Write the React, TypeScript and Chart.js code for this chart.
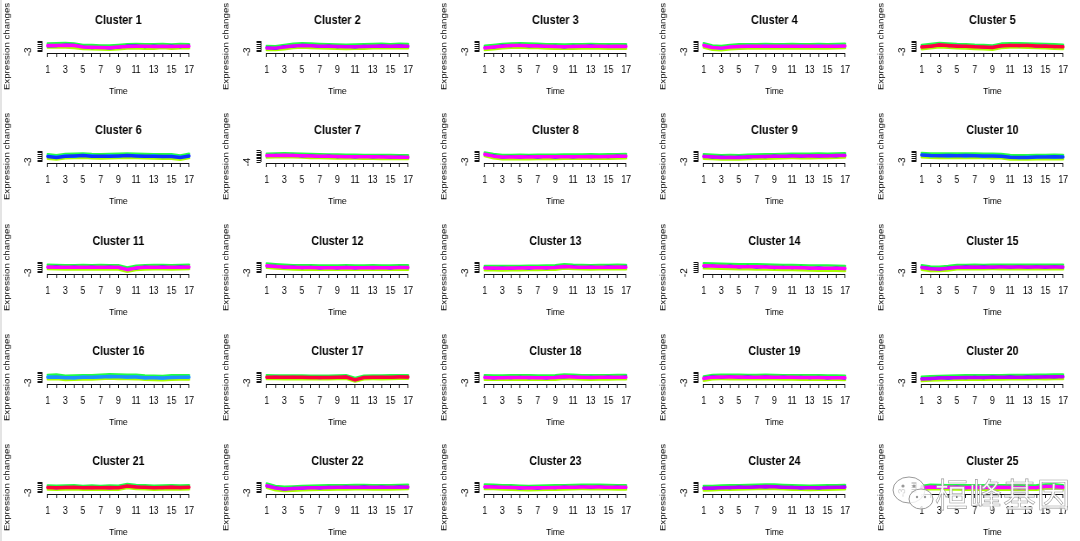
import React, { useEffect, useRef } from 'react';
import { Chart, registerables } from 'chart.js';

Chart.register(...registerables);

const FONT = "'Liberation Sans', Arial, Helvetica, sans-serif";

const timePoints = [1, 2, 3, 4, 5, 6, 7, 8, 9, 10, 11, 12, 13, 14, 15, 16, 17];
const xTickLabels = ['1', '', '3', '', '5', '', '7', '', '9', '', '11', '', '13', '', '15', '', '17'];
const xAxisTitle = 'Time';
const yAxisTitle = 'Expression changes';

const clusterNames = [
  'Cluster 1', 'Cluster 2', 'Cluster 3', 'Cluster 4', 'Cluster 5',
  'Cluster 6', 'Cluster 7', 'Cluster 8', 'Cluster 9', 'Cluster 10',
  'Cluster 11', 'Cluster 12', 'Cluster 13', 'Cluster 14', 'Cluster 15',
  'Cluster 16', 'Cluster 17', 'Cluster 18', 'Cluster 19', 'Cluster 20',
  'Cluster 21', 'Cluster 22', 'Cluster 23', 'Cluster 24', 'Cluster 25',
];

// lowest y tick (the only y label R could fit)
const yLow = [
  -3, -3, -3, -3, -3,
  -3, -4, -3, -3, -3,
  -3, -3, -3, -2, -3,
  -3, -3, -3, -3, -3,
  -3, -3, -3, -3, -3,
];
const yTop = 3;

// high-membership (core) profile of each cluster
const coreSeries = [
  [0.5, 0.6, 0.7, 0.5, -0.3, -0.4, -0.6, -0.7, -0.3, 0.0, 0.1, 0.1, 0.0, 0.2, 0.0, 0.1, 0.1],
  [-0.8, -0.9, -0.3, 0.3, 0.6, 0.4, 0.2, 0.1, 0.0, -0.2, -0.1, 0.0, 0.2, 0.3, 0.2, 0.3, 0.2],
  [-0.8, -0.3, 0.2, 0.5, 0.6, 0.4, 0.3, 0.1, 0.0, -0.1, 0.0, 0.1, 0.2, 0.1, 0.0, 0.1, 0.0],
  [0.6, -0.6, -0.9, -0.3, 0.0, 0.1, 0.1, 0.2, 0.1, 0.1, 0.2, 0.1, 0.1, 0.2, 0.1, 0.2, 0.3],
  [-0.3, 0.2, 0.8, 0.5, 0.2, 0.1, -0.2, -0.3, -0.6, 0.4, 0.6, 0.6, 0.5, 0.3, 0.2, 0.0, -0.2],
  [0.0, -0.5, 0.2, 0.3, 0.5, 0.2, 0.1, 0.2, 0.3, 0.5, 0.3, 0.2, 0.1, 0.0, 0.0, -0.6, 0.3],
  [0.1, 0.2, 0.3, 0.2, 0.0, -0.2, -0.3, -0.4, -0.5, -0.6, -0.6, -0.7, -0.7, -0.8, -0.8, -0.9, -0.9],
  [1.2, 0.2, -0.3, -0.3, -0.2, -0.3, -0.2, -0.2, -0.2, -0.1, -0.1, -0.1, 0.0, -0.1, 0.0, 0.1, 0.2],
  [0.0, -0.2, -0.5, -0.4, -0.5, -0.2, -0.1, 0.0, 0.1, 0.2, 0.3, 0.3, 0.3, 0.4, 0.3, 0.5, 0.6],
  [0.8, 0.5, 0.4, 0.5, 0.4, 0.5, 0.4, 0.3, 0.3, 0.2, -0.4, -0.5, -0.5, -0.3, -0.3, -0.2, -0.3],
  [0.3, 0.2, 0.1, 0.1, 0.2, 0.1, 0.2, 0.1, 0.1, -1.2, -0.2, 0.1, 0.2, 0.2, 0.1, 0.2, 0.3],
  [1.0, 0.6, 0.3, 0.1, 0.0, 0.0, -0.1, -0.1, -0.1, 0.0, -0.1, -0.1, 0.0, -0.1, -0.1, 0.0, 0.0],
  [-0.3, -0.3, -0.4, -0.3, -0.3, -0.2, -0.2, -0.1, 0.0, 0.6, 0.3, 0.2, 0.1, 0.2, 0.2, 0.3, 0.2],
  [1.3, 1.2, 1.1, 1.0, 0.9, 0.9, 0.8, 0.7, 0.6, 0.5, 0.5, 0.4, 0.3, 0.2, 0.2, 0.1, 0.0],
  [0.0, -0.7, -0.8, -0.4, 0.2, 0.2, 0.3, 0.2, 0.3, 0.3, 0.3, 0.3, 0.3, 0.3, 0.3, 0.3, 0.3],
  [0.2, 0.3, -0.2, -0.1, 0.1, 0.1, 0.3, 0.6, 0.4, 0.3, 0.3, -0.1, -0.2, -0.3, 0.0, 0.1, 0.1],
  [0.2, 0.1, 0.1, 0.1, 0.1, 0.0, 0.0, 0.0, 0.1, 0.3, -1.3, 0.0, 0.1, 0.1, 0.2, 0.3, 0.3],
  [0.0, -0.1, -0.1, 0.0, 0.0, 0.0, -0.1, -0.1, 0.0, 0.5, 0.3, 0.1, 0.0, 0.1, 0.1, 0.2, 0.2],
  [-0.6, 0.2, 0.3, 0.3, 0.3, 0.2, 0.2, 0.3, 0.2, 0.1, 0.1, 0.0, 0.0, 0.0, -0.1, -0.1, -0.2],
  [-0.8, -0.5, -0.3, -0.2, -0.1, 0.0, 0.0, 0.0, 0.1, 0.1, 0.2, 0.2, 0.2, 0.3, 0.3, 0.4, 0.4],
  [0.0, -0.1, 0.0, 0.1, -0.2, 0.0, -0.2, 0.0, -0.1, 0.8, 0.3, 0.1, -0.1, 0.0, 0.1, 0.0, 0.1],
  [1.0, -0.3, -0.8, -0.6, -0.3, -0.2, -0.1, 0.0, 0.1, 0.1, 0.2, 0.2, 0.1, 0.1, 0.1, 0.2, 0.3],
  [0.4, 0.3, 0.1, 0.0, -0.2, -0.3, -0.2, -0.1, 0.0, 0.1, 0.2, 0.3, 0.3, 0.3, 0.2, 0.1, 0.1],
  [-0.4, -0.3, -0.1, 0.0, 0.1, 0.2, 0.3, 0.5, 0.4, 0.2, 0.0, -0.1, -0.2, -0.1, 0.0, 0.1, 0.2],
  [-0.3, 0.3, 0.2, 0.1, 0.1, 0.0, 0.0, 0.0, 0.0, 0.1, 0.0, 0.0, -0.1, 0.0, 0.5, 0.6, 0.1],
];

// medium-membership genes
const midSeries = [
  [0.2, 0.3, 1.0, 0.9, -0.1, -0.8, -0.4, -1.0, -0.5, 0.4, 0.5, -0.3, 0.4, -0.1, 0.4, -0.3, 0.4],
  [-0.5, -1.2, 0.1, 0.0, 0.9, 0.7, -0.1, 0.4, -0.3, 0.1, -0.4, 0.3, -0.1, 0.6, 0.0, 0.5, -0.1],
  [-0.5, -0.6, 0.5, 0.3, 0.9, 0.1, 0.6, -0.2, 0.3, -0.4, 0.3, -0.2, 0.5, -0.2, 0.3, -0.2, 0.3],
  [0.9, -0.3, -1.2, 0.0, -0.3, 0.4, -0.2, 0.5, -0.2, 0.4, -0.1, 0.4, -0.2, 0.5, -0.2, 0.5, 0.0],
  [0.0, -0.1, 1.1, 0.2, 0.5, -0.2, 0.1, -0.6, -0.3, 0.1, 0.9, 0.3, 0.8, 0.0, 0.5, -0.3, 0.1],
  [0.4, -0.2, 0.6, -0.1, 0.8, 0.5, -0.2, 0.6, 0.0, 0.8, 0.6, -0.1, 0.5, -0.3, 0.4, -0.3, 0.0],
  [-0.2, 0.5, 0.0, 0.5, -0.3, 0.1, -0.6, -0.1, -0.8, -0.3, -0.9, -0.4, -1.0, -0.5, -1.1, -0.6, -1.2],
  [0.9, 0.5, -0.6, 0.0, -0.5, 0.1, -0.5, 0.1, -0.5, 0.2, -0.4, 0.2, -0.3, 0.2, -0.3, 0.4, -0.1],
  [0.3, -0.5, -0.2, -0.7, -0.2, -0.5, 0.2, -0.3, 0.4, -0.1, 0.6, 0.0, 0.6, 0.1, 0.6, 0.2, 0.8],
  [1.1, 0.2, 0.7, 0.2, 0.7, 0.2, 0.7, 0.0, 0.6, -0.1, -0.1, -0.8, -0.2, -0.6, 0.0, -0.5, 0.0],
  [0.0, 0.5, -0.2, 0.4, -0.1, 0.4, -0.1, 0.4, -0.2, -0.9, -0.5, 0.4, -0.1, 0.5, -0.2, 0.5, 0.0],
  [0.7, 0.9, 0.0, 0.4, -0.3, 0.3, -0.4, 0.2, -0.4, 0.3, -0.4, 0.2, -0.3, 0.2, -0.4, 0.3, -0.3],
  [0.0, -0.6, -0.1, -0.6, 0.0, -0.5, 0.1, -0.4, 0.3, 0.3, 0.6, -0.1, 0.4, -0.1, 0.5, 0.0, 0.5],
  [1.0, 1.5, 0.8, 1.3, 0.6, 1.2, 0.5, 1.0, 0.3, 0.8, 0.2, 0.7, 0.0, 0.5, -0.1, 0.4, -0.2],
  [0.3, -0.4, -1.1, -0.1, -0.1, 0.5, 0.0, 0.5, 0.0, 0.6, 0.0, 0.6, 0.0, 0.6, 0.0, 0.6, 0.0],
  [0.5, 0.0, 0.1, -0.4, 0.4, -0.2, 0.6, 0.3, 0.7, 0.0, 0.6, -0.4, 0.1, -0.6, 0.3, -0.2, 0.4],
  [-0.1, 0.4, -0.2, 0.3, -0.2, 0.2, -0.3, 0.2, -0.2, 0.5, -1.6, 0.2, -0.2, 0.3, -0.1, 0.6, 0.0],
  [0.3, -0.4, 0.2, -0.3, 0.3, -0.3, 0.2, -0.4, 0.3, 0.2, 0.6, -0.2, 0.3, -0.2, 0.4, -0.1, 0.5],
  [-0.3, 0.5, 0.0, 0.6, 0.0, 0.5, -0.1, 0.6, -0.1, 0.4, -0.2, 0.3, -0.3, 0.3, -0.4, 0.2, -0.5],
  [-0.5, -0.8, 0.0, -0.5, 0.2, -0.3, 0.3, -0.3, 0.4, -0.2, 0.5, -0.1, 0.5, 0.0, 0.6, 0.1, 0.7],
  [0.3, -0.4, 0.3, -0.2, 0.1, -0.3, 0.2, -0.4, 0.2, 0.5, 0.6, -0.2, 0.2, -0.3, 0.4, -0.3, 0.3],
  [0.7, 0.0, -1.1, -0.3, -0.6, 0.1, -0.4, 0.3, -0.2, 0.4, -0.1, 0.5, -0.2, 0.4, -0.2, 0.5, 0.0],
  [0.1, 0.6, -0.2, 0.3, -0.5, 0.0, -0.5, 0.2, -0.3, 0.4, -0.1, 0.6, 0.0, 0.6, -0.1, 0.4, -0.2],
  [-0.1, -0.6, 0.2, -0.3, 0.4, -0.1, 0.6, 0.2, 0.7, -0.1, 0.3, -0.4, 0.1, -0.4, 0.3, -0.2, 0.5],
  [0.0, 0.0, 0.5, -0.2, 0.4, -0.3, 0.3, -0.3, 0.3, -0.2, 0.3, -0.3, 0.2, -0.3, 0.8, 0.3, 0.4],
];

// low-membership genes at the upper edge of each band
const hiSeries = [
  [1.6, 1.8, 1.9, 1.7, 0.9, 0.8, 0.6, 0.5, 0.9, 1.3, 1.4, 1.2, 1.3, 1.4, 1.1, 1.4, 1.3],
  [0.3, 0.2, 0.9, 1.5, 1.8, 1.6, 1.4, 1.2, 1.1, 1.0, 1.1, 1.2, 1.4, 1.5, 1.3, 1.5, 1.4],
  [0.4, 0.9, 1.4, 1.7, 1.8, 1.6, 1.5, 1.3, 1.2, 1.1, 1.2, 1.3, 1.4, 1.3, 1.2, 1.3, 1.2],
  [1.8, 0.6, 0.3, 0.9, 1.2, 1.3, 1.3, 1.4, 1.3, 1.3, 1.4, 1.3, 1.3, 1.4, 1.3, 1.4, 1.5],
  [0.9, 1.4, 2.0, 1.7, 1.4, 1.3, 1.0, 0.9, 0.6, 1.6, 1.8, 1.8, 1.7, 1.5, 1.4, 1.2, 1.0],
  [1.2, 0.7, 1.4, 1.5, 1.7, 1.4, 1.3, 1.4, 1.5, 1.7, 1.5, 1.4, 1.3, 1.2, 1.2, 0.6, 1.5],
  [1.3, 1.4, 1.5, 1.4, 1.2, 1.0, 0.9, 0.8, 0.7, 0.6, 0.6, 0.5, 0.5, 0.4, 0.4, 0.3, 0.3],
  [2.2, 1.4, 0.9, 0.9, 1.0, 0.9, 1.0, 1.0, 1.0, 1.1, 1.1, 1.1, 1.2, 1.1, 1.2, 1.3, 1.4],
  [1.2, 1.0, 0.7, 0.8, 0.7, 1.0, 1.1, 1.2, 1.3, 1.4, 1.5, 1.5, 1.5, 1.6, 1.5, 1.7, 1.8],
  [2.0, 1.7, 1.6, 1.7, 1.6, 1.7, 1.6, 1.5, 1.5, 1.4, 0.8, 0.7, 0.7, 0.9, 0.9, 1.0, 0.9],
  [1.5, 1.4, 1.3, 1.3, 1.4, 1.3, 1.4, 1.3, 1.3, 0.0, 1.0, 1.3, 1.4, 1.4, 1.3, 1.4, 1.5],
  [2.2, 1.8, 1.5, 1.3, 1.2, 1.2, 1.1, 1.1, 1.1, 1.2, 1.1, 1.1, 1.2, 1.1, 1.1, 1.2, 1.2],
  [0.9, 0.9, 0.8, 0.9, 0.9, 1.0, 1.0, 1.1, 1.2, 1.8, 1.5, 1.4, 1.3, 1.4, 1.4, 1.5, 1.4],
  [2.5, 2.4, 2.3, 2.2, 2.1, 2.1, 2.0, 1.9, 1.8, 1.7, 1.7, 1.6, 1.5, 1.4, 1.4, 1.3, 1.2],
  [1.2, 0.5, 0.4, 0.8, 1.4, 1.4, 1.5, 1.4, 1.5, 1.5, 1.5, 1.5, 1.5, 1.5, 1.5, 1.5, 1.5],
  [1.4, 1.6, 1.0, 1.1, 1.3, 1.3, 1.5, 1.8, 1.6, 1.5, 1.5, 1.1, 1.0, 0.9, 1.2, 1.3, 1.3],
  [1.2, 1.1, 1.1, 1.1, 1.1, 1.0, 1.0, 1.0, 1.1, 1.3, -0.3, 1.0, 1.1, 1.1, 1.2, 1.3, 1.3],
  [1.2, 1.1, 1.1, 1.2, 1.2, 1.2, 1.1, 1.1, 1.2, 1.7, 1.5, 1.3, 1.2, 1.3, 1.3, 1.4, 1.4],
  [0.6, 1.4, 1.5, 1.5, 1.5, 1.4, 1.4, 1.5, 1.4, 1.3, 1.3, 1.2, 1.2, 1.2, 1.1, 1.1, 1.0],
  [0.4, 0.7, 0.9, 1.0, 1.1, 1.2, 1.2, 1.2, 1.3, 1.3, 1.4, 1.4, 1.4, 1.5, 1.5, 1.6, 1.6],
  [1.1, 1.0, 1.1, 1.2, 0.9, 1.1, 0.9, 1.1, 1.0, 1.9, 1.4, 1.2, 1.0, 1.1, 1.2, 1.1, 1.2],
  [2.2, 0.9, 0.4, 0.6, 0.9, 1.0, 1.1, 1.2, 1.3, 1.3, 1.4, 1.4, 1.3, 1.3, 1.3, 1.4, 1.5],
  [1.6, 1.5, 1.3, 1.2, 1.0, 0.9, 1.0, 1.1, 1.2, 1.3, 1.4, 1.5, 1.5, 1.5, 1.4, 1.3, 1.3],
  [0.8, 0.9, 1.1, 1.2, 1.3, 1.4, 1.5, 1.7, 1.6, 1.4, 1.2, 1.1, 1.0, 1.1, 1.2, 1.3, 1.4],
  [0.9, 1.5, 1.4, 1.3, 1.3, 1.2, 1.2, 1.2, 1.2, 1.3, 1.2, 1.2, 1.1, 1.2, 1.7, 1.8, 1.3],
];

// low-membership genes at the lower edge of each band
const loSeries = [
  [-0.6, -0.5, -0.5, -0.8, -1.4, -1.5, -1.7, -1.8, -1.5, -1.1, -1.0, -1.2, -1.2, -0.9, -1.3, -1.0, -1.0],
  [-1.9, -2.0, -1.5, -0.9, -0.6, -0.8, -1.0, -1.1, -1.2, -1.4, -1.3, -1.2, -1.0, -0.9, -1.0, -0.9, -1.0],
  [-2.0, -1.5, -1.0, -0.7, -0.6, -0.8, -0.9, -1.1, -1.2, -1.3, -1.2, -1.1, -1.0, -1.1, -1.2, -1.1, -1.2],
  [-0.6, -1.8, -2.1, -1.5, -1.2, -1.1, -1.1, -1.0, -1.1, -1.1, -1.0, -1.1, -1.1, -1.0, -1.1, -1.0, -0.9],
  [-1.5, -1.0, -0.4, -0.7, -1.0, -1.1, -1.4, -1.5, -1.8, -0.8, -0.6, -0.6, -0.7, -0.9, -1.0, -1.2, -1.4],
  [-1.2, -1.7, -1.0, -0.9, -0.7, -1.0, -1.1, -1.0, -0.9, -0.7, -0.9, -1.0, -1.1, -1.2, -1.2, -1.8, -0.9],
  [-1.1, -1.0, -0.9, -1.0, -1.2, -1.4, -1.5, -1.6, -1.7, -1.8, -1.8, -1.9, -1.9, -2.0, -2.0, -2.1, -2.1],
  [0.2, -1.0, -1.5, -1.5, -1.4, -1.5, -1.4, -1.4, -1.4, -1.3, -1.3, -1.3, -1.2, -1.3, -1.2, -1.1, -1.0],
  [-1.2, -1.4, -1.7, -1.6, -1.7, -1.4, -1.3, -1.2, -1.1, -1.0, -0.9, -0.9, -0.9, -0.8, -0.9, -0.7, -0.6],
  [-0.4, -0.7, -0.8, -0.7, -0.8, -0.7, -0.8, -0.9, -0.9, -1.0, -1.6, -1.7, -1.7, -1.5, -1.5, -1.4, -1.5],
  [-0.9, -1.0, -1.1, -1.1, -1.0, -1.1, -1.0, -1.1, -1.1, -2.4, -1.4, -1.1, -1.0, -1.0, -1.1, -1.0, -0.9],
  [-0.2, -0.6, -0.9, -1.1, -1.2, -1.2, -1.3, -1.3, -1.3, -1.2, -1.3, -1.3, -1.2, -1.3, -1.3, -1.2, -1.2],
  [-1.5, -1.5, -1.6, -1.5, -1.5, -1.4, -1.4, -1.3, -1.2, -0.6, -0.9, -1.0, -1.1, -1.0, -1.0, -0.9, -1.0],
  [0.1, 0.0, -0.1, -0.2, -0.3, -0.3, -0.4, -0.5, -0.6, -0.7, -0.7, -0.8, -0.9, -1.0, -1.0, -1.1, -1.2],
  [-1.2, -1.9, -2.0, -1.6, -1.0, -1.0, -0.9, -1.0, -0.9, -0.9, -0.9, -0.9, -0.9, -0.9, -0.9, -0.9, -0.9],
  [-1.0, -0.9, -1.4, -1.3, -1.1, -1.1, -0.9, -0.6, -0.8, -0.9, -0.9, -1.3, -1.4, -1.5, -1.2, -1.1, -1.1],
  [-0.8, -0.9, -0.9, -0.9, -0.9, -1.0, -1.0, -1.0, -0.9, -0.7, -2.3, -1.0, -0.9, -0.9, -0.8, -0.7, -0.7],
  [-1.2, -1.3, -1.3, -1.2, -1.2, -1.2, -1.3, -1.3, -1.2, -0.7, -0.9, -1.1, -1.2, -1.1, -1.1, -1.0, -1.0],
  [-1.8, -1.0, -0.9, -0.9, -0.9, -1.0, -1.0, -0.9, -1.0, -1.1, -1.1, -1.2, -1.2, -1.2, -1.3, -1.3, -1.4],
  [-2.0, -1.7, -1.5, -1.4, -1.3, -1.2, -1.2, -1.2, -1.1, -1.1, -1.0, -1.0, -1.0, -0.9, -0.9, -0.8, -0.8],
  [-1.1, -1.2, -1.1, -1.0, -1.3, -1.1, -1.3, -1.1, -1.2, -0.3, -0.8, -1.0, -1.2, -1.1, -1.0, -1.1, -1.0],
  [-0.2, -1.5, -2.0, -1.8, -1.5, -1.4, -1.3, -1.2, -1.1, -1.1, -1.0, -1.0, -1.1, -1.1, -1.1, -1.0, -0.9],
  [-0.8, -0.9, -1.1, -1.2, -1.4, -1.5, -1.4, -1.3, -1.2, -1.1, -1.0, -0.9, -0.9, -0.9, -1.0, -1.1, -1.1],
  [-1.6, -1.5, -1.3, -1.2, -1.1, -1.0, -0.9, -0.7, -0.8, -1.0, -1.2, -1.3, -1.4, -1.3, -1.2, -1.1, -1.0],
  [-1.5, -0.9, -1.0, -1.1, -1.1, -1.2, -1.2, -1.2, -1.2, -1.1, -1.2, -1.2, -1.3, -1.2, -0.7, -0.6, -1.1],
];

const coreColors = [
  '#FF00FF', '#E000FF', '#FF00FF', '#FF00FF', '#FF0040',
  '#1030FF', '#FF00FF', '#FF00FF', '#E000FF', '#1040FF',
  '#FF00FF', '#FF00FF', '#FF00FF', '#FF00FF', '#E000FF',
  '#1E90FF', '#FF0040', '#FF00FF', '#FF00FF', '#C000FF',
  '#FF0040', '#E000FF', '#FF00FF', '#C000FF', '#FF00FF',
];
const midColors = [
  '#2030FF', '#2030FF', '#2030FF', '#00CCFF', '#D000FF',
  '#00E5FF', '#2030FF', '#2030FF', '#2030FF', '#00E5FF',
  '#2030FF', '#2030FF', '#2030FF', '#2030FF', '#2030FF',
  '#00E5FF', '#D000FF', '#2030FF', '#2030FF', '#2030FF',
  '#D000FF', '#2030FF', '#2030FF', '#2030FF', '#2030FF',
];
const hiColor = '#22FF44';
const loColor = '#A8FF00';

// panel placement on the page
const colX = [-1, 218, 436, 655, 873];
const rowY = [0, 110, 221, 331, 441];

const PANEL_W = 219; // displayed width
const INNER_W = 252; // drawing width (the source image is squeezed horizontally)
const PANEL_H = 110;

const axisLinePlugin = {
  id: 'rAxisLines',
  afterDraw(chart: any) {
    const { ctx, chartArea } = chart;
    const xs = chart.scales.x;
    const ys = chart.scales.y;
    const yt = ys.ticks;
    ctx.save();
    ctx.strokeStyle = '#111';
    ctx.lineWidth = 1;
    ctx.beginPath();
    const yb = Math.round(chartArea.bottom) + 0.5;
    ctx.moveTo(xs.getPixelForValue(timePoints[0]), yb);
    ctx.lineTo(xs.getPixelForValue(timePoints[timePoints.length - 1]), yb);
    const xl = Math.round(chartArea.left) + 0.5;
    ctx.moveTo(xl, ys.getPixelForValue(yt[0].value));
    ctx.lineTo(xl, ys.getPixelForValue(yt[yt.length - 1].value));
    ctx.stroke();
    ctx.restore();
  },
};

function Panel({ idx }: { idx: number }) {
  const ref = useRef<HTMLCanvasElement>(null);
  useEffect(() => {
    if (!ref.current) return;
    const low = yLow[idx];
    const yTicks: number[] = [];
    for (let v = low; v <= yTop; v++) yTicks.push(v);
    const pts = (arr: number[]) => arr.map((v, i) => ({ x: timePoints[i], y: v }));
    // Chart.js paints the first dataset on top, so the core comes first
    const chart = new Chart(ref.current, {
      type: 'line',
      data: {
        datasets: [
          { data: pts(coreSeries[idx]), borderColor: coreColors[idx], borderWidth: 3.5 },
          { data: pts(midSeries[idx]), borderColor: midColors[idx], borderWidth: 2.5 },
          { data: pts(hiSeries[idx]), borderColor: hiColor, borderWidth: 2.5 },
          { data: pts(loSeries[idx]), borderColor: loColor, borderWidth: 2.5 },
        ],
      },
      options: {
        responsive: false,
        animation: false,
        events: [],
        layout: { padding: { left: 0, right: 26.7, top: 0, bottom: 0 } },
        elements: {
          point: { radius: 0 },
          line: { tension: 0, borderJoinStyle: 'round', borderCapStyle: 'round' },
        },
        plugins: {
          legend: { display: false },
          tooltip: { enabled: false },
          title: {
            display: true,
            text: clusterNames[idx],
            fullSize: false,
            color: '#000',
            font: { family: FONT, size: 12.5, weight: 'bold' },
            padding: { top: 13.5, bottom: 11.5 },
          },
        },
        scales: {
          x: {
            type: 'linear',
            min: 0.36,
            max: 17.64,
            afterBuildTicks: (s: any) => {
              s.ticks = timePoints.map((v) => ({ value: v }));
            },
            afterFit: (s: any) => {
              s.height = 57;
            },
            grid: { display: true, drawOnChartArea: false, drawTicks: true, tickLength: 4, color: '#111', lineWidth: 1 },
            border: { display: false },
            ticks: {
              autoSkip: false,
              maxRotation: 0,
              minRotation: 0,
              padding: 7.4,
              color: '#000',
              font: { family: FONT, size: 10 },
              callback: (_v: any, i: number) => xTickLabels[i],
            },
            title: {
              display: true,
              text: xAxisTitle,
              color: '#000',
              font: { family: FONT, size: 9.7 },
              padding: { top: 0, bottom: 13.2 },
            },
          },
          y: {
            type: 'linear',
            min: low - 0.6,
            max: yTop + 0.6,
            afterBuildTicks: (s: any) => {
              s.ticks = yTicks.map((v) => ({ value: v }));
            },
            afterFit: (s: any) => {
              s.width = 49.4;
            },
            grid: { display: true, drawOnChartArea: false, drawTicks: true, tickLength: 5, color: '#111', lineWidth: 1 },
            border: { display: false },
            ticks: {
              autoSkip: false,
              minRotation: 90,
              maxRotation: 90,
              crossAlign: 'center',
              padding: 6,
              color: '#000',
              font: { family: FONT, size: 10 },
              callback: (v: any) => (v === low ? String(v) : ''),
            },
            title: {
              display: true,
              text: yAxisTitle,
              color: '#000',
              font: { family: FONT, size: 9.7 },
              padding: { top: 3.4, bottom: 0 },
            },
          },
        },
      } as any,
      plugins: [axisLinePlugin],
    });
    return () => chart.destroy();
  }, [idx]);

  return (
    <canvas
      ref={ref}
      width={INNER_W}
      height={PANEL_H}
      style={{
        position: 'absolute',
        left: colX[idx % 5],
        top: rowY[Math.floor(idx / 5)],
        width: PANEL_W,
        height: PANEL_H,
      }}
    />
  );
}

function Watermark() {
  return (
    <>
      <svg
        width={48}
        height={40}
        style={{ position: 'absolute', left: 890, top: 474 }}
        viewBox="0 0 48 40"
      >
        <ellipse cx={19} cy={16} rx={16} ry={13} fill="rgba(255,255,255,0.8)" stroke="#999" strokeWidth={1} />
        <ellipse cx={31} cy={25} rx={12} ry={10} fill="rgba(255,255,255,0.8)" stroke="#999" strokeWidth={1} />
        <circle cx={13} cy={12} r={1.6} fill="#999" />
        <circle cx={24} cy={12} r={1.6} fill="#999" />
        <circle cx={27} cy={23} r={1.2} fill="#999" />
        <circle cx={35} cy={23} r={1.2} fill="#999" />
      </svg>
      <div
        style={{
          position: 'absolute',
          left: 935,
          top: 475,
          fontFamily: "'Noto Sans CJK SC', sans-serif",
          fontSize: 33,
          lineHeight: '36px',
          letterSpacing: 1,
          color: 'rgba(255,255,255,0.92)',
          WebkitTextStroke: '0.6px #9a9a9a',
          whiteSpace: 'nowrap',
        }}
      >
        桓峰基因
      </div>
    </>
  );
}

export default function App() {
  return (
    <div
      style={{
        position: 'absolute',
        left: 0,
        top: 0,
        width: 1080,
        height: 541,
        background: '#fff',
        overflow: 'hidden',
      }}
    >
      <div style={{ position: 'absolute', left: 0, top: 0, width: 2, height: 541, background: '#e4e4e4' }} />
      {clusterNames.map((_, i) => (
        <Panel key={i} idx={i} />
      ))}
      <Watermark />
    </div>
  );
}
